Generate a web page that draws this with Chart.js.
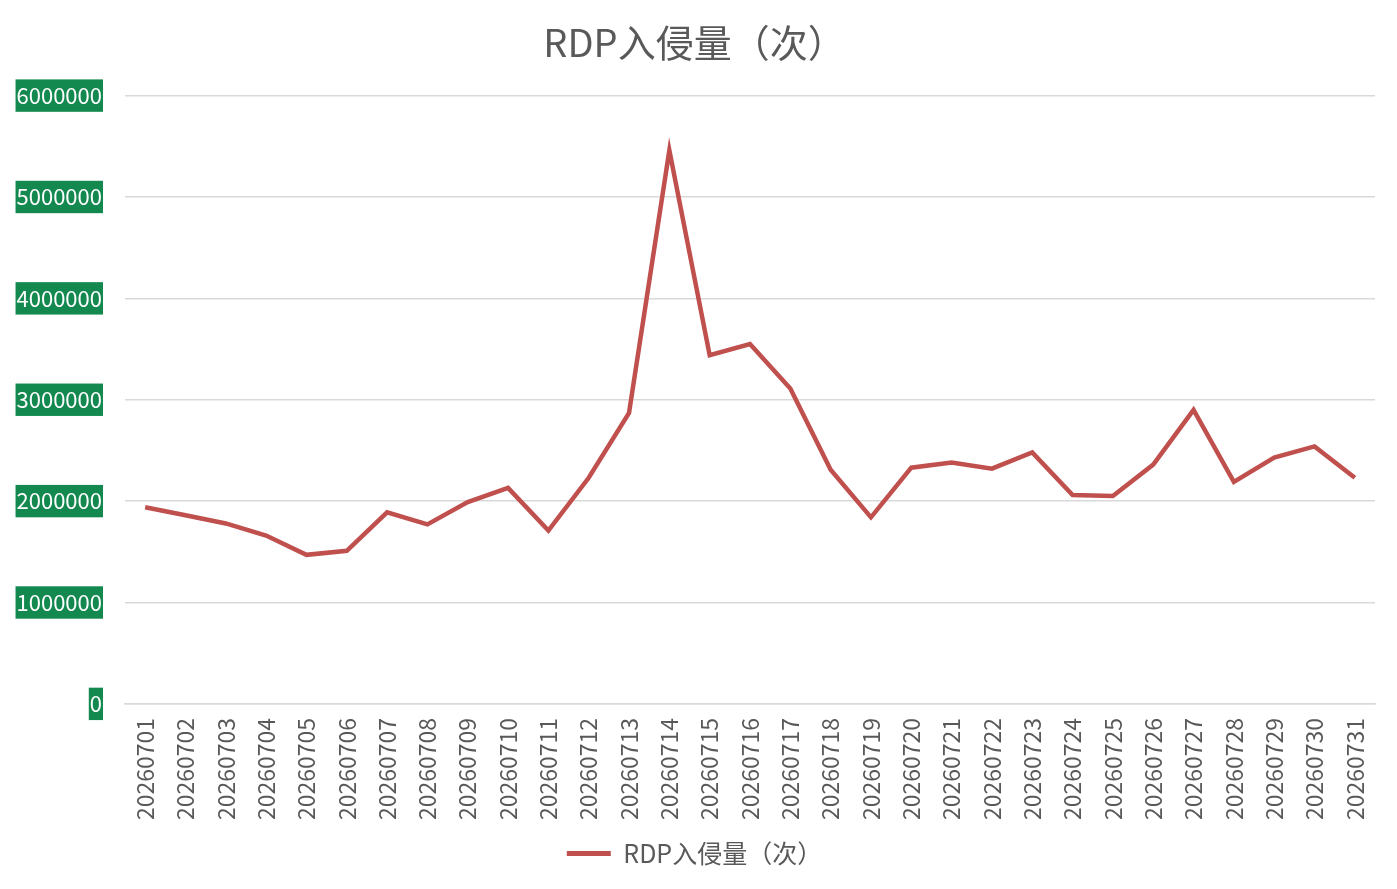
<!DOCTYPE html>
<html>
<head>
<meta charset="utf-8">
<script src="https://cdn.jsdelivr.net/npm/chart.js@4"></script>
<style>
  html, body { margin: 0; padding: 0; background: #fff; }
  #wrap { width: 1397px; height: 889px; }
</style>
</head>
<body>
<div id="wrap"><canvas id="myChart"></canvas></div>
<script>
// dates on the x axis
const days = [
  '20260701','20260702','20260703','20260704','20260705','20260706','20260707','20260708',
  '20260709','20260710','20260711','20260712','20260713','20260714','20260715','20260716',
  '20260717','20260718','20260719','20260720','20260721','20260722','20260723','20260724',
  '20260725','20260726','20260727','20260728','20260729','20260730','20260731'
];
// RDP intrusions per day
const rdpCounts = [
  1940000, 1860000, 1780000, 1660000, 1470000, 1510000, 1890000, 1770000,
  1990000, 2130000, 1710000, 2230000, 2870000, 5460000, 3440000, 3550000,
  3110000, 2310000, 1840000, 2330000, 2380000, 2320000, 2480000, 2060000,
  2050000, 2360000, 2900000, 2190000, 2430000, 2540000, 2230000
];
const yTicks = [0, 1000000, 2000000, 3000000, 4000000, 5000000, 6000000];
const seriesName = 'RDP入侵量（次）';

const font = "'Microsoft YaHei', 'Noto Sans CJK SC', sans-serif";
const grey = '#595959';
const red = '#C0504D';

const ctx = document.getElementById('myChart').getContext('2d');
const myChart = new Chart(ctx, {
  type: 'line',
  data: {
    labels: days,
    datasets: [{
      label: seriesName,
      data: rdpCounts,
      borderColor: red,
      backgroundColor: red,
      borderWidth: 4.5,
      pointRadius: 0,
      tension: 0
    }]
  },
  options: {
    responsive: true,
    maintainAspectRatio: false,
    animation: false,
    layout: { padding: { left: 14, right: 22, top: 20, bottom: 13 } },
    plugins: {
      title: {
        display: true,
        text: seriesName,
        color: grey,
        font: { family: font, size: 38, weight: 'normal' },
        padding: { top: 0, bottom: 30 }
      },
      legend: {
        position: 'bottom',
        labels: {
          color: grey,
          font: { family: font, size: 25 },
          boxWidth: 44,
          boxHeight: 5,
          padding: 8,
          generateLabels: function(chart) {
            const items = Chart.defaults.plugins.legend.labels.generateLabels(chart);
            items.forEach(function(it) {
              it.lineWidth = 0;
              it.fillStyle = red;
            });
            return items;
          }
        }
      },
      tooltip: { enabled: false }
    },
    scales: {
      x: {
        offset: true,
        grid: { display: false },
        border: { display: true, color: '#D9D9D9', width: 1.5 },
        ticks: {
          color: grey,
          font: { family: font, size: 23 },
          minRotation: 90,
          maxRotation: 90,
          autoSkip: false,
          padding: 6
        },
        afterFit: function(axis) {
          // extra room between the date labels and the legend
          axis.height += 7;
        }
      },
      y: {
        min: 0,
        max: 6000000,
        afterBuildTicks: function(axis) {
          axis.ticks = yTicks.map(function(v) { return { value: v }; });
        },
        afterFit: function(axis) {
          axis.width = 111;
        },
        grid: { color: '#D9D9D9', lineWidth: 1.5, drawTicks: false },
        border: { display: false },
        ticks: {
          color: '#FFFFFF',
          font: { family: font, size: 22 },
          padding: 23,
          showLabelBackdrop: true,
          backdropColor: '#13884F',
          backdropPadding: { top: 3, bottom: 3, left: 1, right: 1 },
          callback: function(v) { return String(v); }
        }
      }
    }
  }
});
</script>
</body>
</html>
